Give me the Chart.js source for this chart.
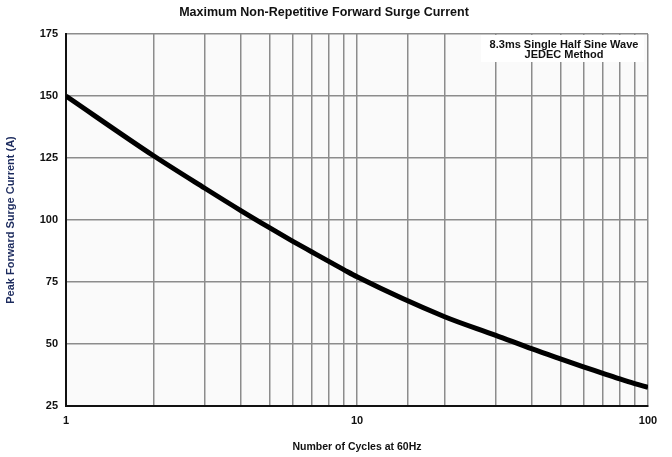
<!DOCTYPE html>
<html>
<head>
<meta charset="utf-8">
<script src="https://cdn.jsdelivr.net/npm/chart.js@4.4.1/dist/chart.umd.min.js"></script>
<style>
  html, body { margin: 0; padding: 0; background: #fff; }
  #wrap { width: 672px; height: 457px; }
</style>
</head>
<body>
<div id="wrap"><canvas id="surge" width="672" height="457"></canvas></div>
<script>
// Surge curve
const cycles = [1, 2, 3, 4, 5, 6, 7, 8, 9, 10, 20, 30, 40, 50, 60, 70, 80, 90, 100];
const surgeAmps = [150, 125.9, 112.8, 103.7, 96.9, 91.5, 87.1, 83.3, 80, 77.1, 61, 53.5, 48, 44, 40.8, 38.2, 35.9, 34, 32.5];
const yTicks = [25, 50, 75, 100, 125, 150, 175];
const xLabels = [1, 10, 100];
const noteLines = ['8.3ms Single Half Sine Wave', 'JEDEC Method'];

const FONT = "'Liberation Sans', Arial, sans-serif";

// fond gris clair de la zone de tracé
const plotBg = {
    id: 'plotBg',
    beforeDraw(chart) {
        const { ctx, chartArea: a } = chart;
        ctx.save();
        ctx.fillStyle = '#fafafa';
        ctx.fillRect(a.left, a.top, a.right - a.left, a.bottom - a.top);
        ctx.restore();
    }
};

// cartouche en haut à droite
const noteBox = {
    id: 'noteBox',
    afterDraw(chart) {
        const { ctx, chartArea: a } = chart;
        ctx.save();
        ctx.fillStyle = '#ffffff';
        ctx.fillRect(a.right - 167, a.top + 1, 163, 27);
        ctx.fillStyle = '#111';
        ctx.font = 'bold 11px ' + FONT;
        ctx.textAlign = 'center';
        ctx.textBaseline = 'middle';
        const cx = a.right - 84;
        noteLines.forEach((t, i) => ctx.fillText(t, cx, a.top + 10.5 + i * 10.5));
        ctx.restore();
    }
};

new Chart(document.getElementById('surge'), {
    type: 'line',
    data: {
        datasets: [{
            data: cycles.map((c, i) => ({ x: c, y: surgeAmps[i] })),
            borderColor: '#000',
            borderWidth: 5,
            pointRadius: 0,
            cubicInterpolationMode: 'monotone',
            fill: false
        }]
    },
    options: {
        responsive: false,
        animation: false,
        layout: { padding: { left: 0, right: 24, top: 0, bottom: 0 } },
        plugins: {
            legend: { display: false },
            tooltip: { enabled: false },
            title: {
                display: true,
                text: 'Maximum Non-Repetitive Forward Surge Current',
                color: '#111',
                font: { family: FONT, size: 12.5, weight: 'bold' },
                padding: { top: 5, bottom: 14 }
            }
        },
        scales: {
            x: {
                type: 'logarithmic',
                min: 1,
                max: 100,
                afterFit: s => { s.height = 51; },
                grid: { color: '#8c8c8c', lineWidth: 1.5, drawTicks: false },
                border: { color: '#111', width: 2 },
                ticks: {
                    autoSkip: false,
                    maxRotation: 0,
                    padding: 8,
                    color: '#111',
                    font: { family: FONT, size: 11, weight: 'bold' },
                    callback: v => xLabels.includes(v) ? String(v) : ''
                },
                title: {
                    display: true,
                    text: 'Number of Cycles at 60Hz',
                    color: '#111',
                    font: { family: FONT, size: 10.5, weight: 'bold' },
                    padding: { top: 13 }
                }
            },
            y: {
                min: 25,
                max: 175,
                afterFit: s => { s.width = 66; },
                afterBuildTicks: s => { s.ticks = yTicks.map(v => ({ value: v })); },
                grid: { color: '#8c8c8c', lineWidth: 1.5, drawTicks: false },
                border: { color: '#111', width: 2 },
                ticks: {
                    padding: 8,
                    color: '#111',
                    font: { family: FONT, size: 11, weight: 'bold' }
                },
                title: {
                    display: true,
                    text: 'Peak Forward Surge Current (A)',
                    color: '#1c2b5e',
                    font: { family: FONT, size: 11, weight: 'bold' },
                    padding: { bottom: 8 }
                }
            }
        }
    },
    plugins: [plotBg, noteBox]
});
</script>
</body>
</html>
